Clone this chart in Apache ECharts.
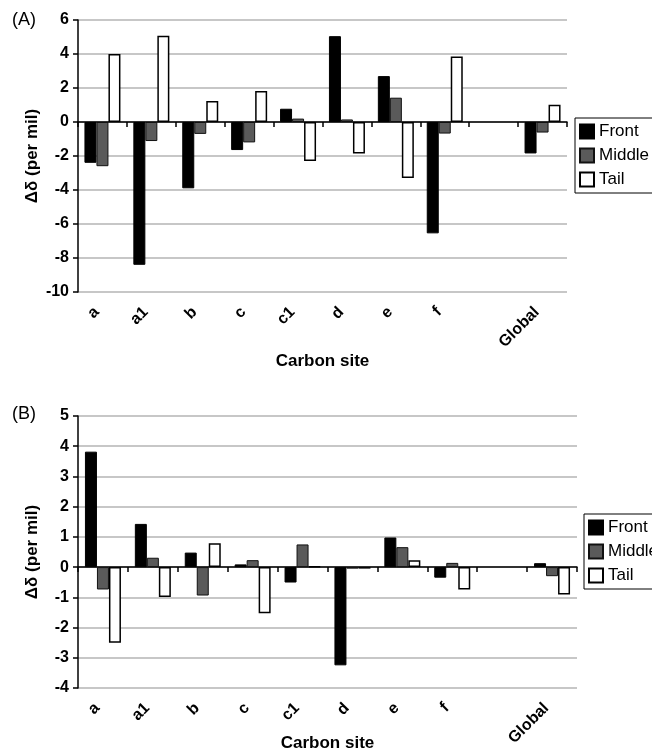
<!DOCTYPE html>
<html><head><meta charset="utf-8">
<script src="https://cdn.jsdelivr.net/npm/echarts@6/dist/echarts.min.js"></script>
<style>html,body{margin:0;padding:0;background:#fff;overflow:hidden}#c{width:652px;height:752px}</style>
</head><body><div id="c"></div>
<script>
// ---- data ----
const categories = ['a', 'a1', 'b', 'c', 'c1', 'd', 'e', 'f', '', 'Global'];
const seriesNames = ['Front', 'Middle', 'Tail'];

const frontA  = [-2.4, -8.4, -3.9, -1.65, 0.78, 5.05, 2.7, -6.55, null, -1.85];
const middleA = [-2.6, -1.12, -0.7, -1.2, 0.2, 0.15, 1.43, -0.68, null, -0.62];
const tailA   = [4.0, 5.08, 1.24, 1.82, -2.3, -1.85, -3.3, 3.86, null, 1.02];

const frontB  = [3.82, 1.43, 0.48, 0.09, -0.51, -3.25, 0.98, -0.35, null, 0.13];
const middleB = [-0.74, 0.31, -0.94, 0.23, 0.75, -0.05, 0.66, 0.14, null, -0.3];
const tailB   = [-2.5, -0.99, 0.79, -1.53, 0.02, -0.05, 0.23, -0.74, null, -0.91];

const yTicksA = [-10, -8, -6, -4, -2, 0, 2, 4, 6];
const yTicksB = [-4, -3, -2, -1, 0, 1, 2, 3, 4, 5];

const panelLabels = ['(A)', '(B)'];
const yTitle = 'Δδ (per mil)';
const xTitle = 'Carbon site';

// ---- styles ----
const FONT = '"Liberation Sans", Arial, sans-serif';
const seriesStyles = [
  { color: '#000000', borderColor: '#000', borderWidth: 1 },
  { color: '#5a5a5a', borderColor: '#111', borderWidth: 1 },
  { color: '#ffffff', borderColor: '#000', borderWidth: 1.5 }
];
const gridBoxes = [
  { left: 78, top: 20, width: 489, height: 272 },
  { left: 78, top: 416, width: 499, height: 272 }
];
const legendBoxes = [
  { left: 575, top: 118 },
  { left: 584, top: 514 }
];
const xNameGaps = [61, 47];

function yAxisFor(ticks, gi) {
  return {
    gridIndex: gi, type: 'value',
    min: ticks[0], max: ticks[ticks.length - 1], interval: ticks[1] - ticks[0],
    axisLine: { show: true, lineStyle: { color: '#000', width: 1.5 } },
    axisTick: { show: true, length: 5, lineStyle: { color: '#000', width: 1.5 } },
    axisLabel: { fontSize: 16, fontWeight: 'bold', color: '#000', fontFamily: FONT, margin: 9 },
    splitLine: { show: true, lineStyle: { color: '#b4b4b4', width: 1.5 } },
    name: yTitle, nameLocation: 'middle', nameGap: 37, nameRotate: 90, nameMoveOverlap: false,
    nameTextStyle: { fontSize: 17, fontWeight: 'bold', color: '#000', fontFamily: FONT }
  };
}
function xAxesFor(gi) {
  return [
    {
      gridIndex: gi, type: 'category', data: categories, position: 'bottom',
      axisLine: { show: false, onZero: false }, axisTick: { show: false },
      splitLine: { show: false },
      axisLabel: { interval: 0, rotate: 45, margin: 12, padding: [0, 8, 0, 0], fontSize: 16, fontWeight: 'bold', color: '#000', fontFamily: FONT },
      name: xTitle, nameLocation: 'middle', nameGap: xNameGaps[gi], nameMoveOverlap: false,
      nameTextStyle: { fontSize: 17, fontWeight: 'bold', color: '#000', fontFamily: FONT }
    },
    {
      gridIndex: gi, type: 'category', data: categories, position: 'top',
      axisLine: { show: true, onZero: true, lineStyle: { color: '#000', width: 1.5 } },
      axisTick: { show: true, inside: true, length: 5, lineStyle: { color: '#000', width: 1.5 } },
      axisLabel: { show: false }, splitLine: { show: false }
    }
  ];
}
function barSeries(name, data, gi, si) {
  return {
    name: name, type: 'bar', xAxisIndex: gi * 2, yAxisIndex: gi,
    data: data, barWidth: 12, barGap: '0%',
    itemStyle: seriesStyles[si]
  };
}
function legendFor(gi) {
  return {
    show: true, orient: 'vertical', left: legendBoxes[gi].left, top: legendBoxes[gi].top,
    data: seriesNames, selectedMode: false, icon: 'rect',
    itemWidth: 14, itemHeight: 14, itemGap: 7,
    padding: [5, 12, 5, 4],
    borderColor: '#000', borderWidth: 1, backgroundColor: '#fff',
    textStyle: { fontSize: 17, color: '#000', fontFamily: FONT, lineHeight: 17 }
  };
}

const option = {
  animation: false,
  backgroundColor: '#fff',
  textStyle: { fontFamily: FONT },
  title: [
    { text: panelLabels[0], left: 12, top: 11, padding: 0, textStyle: { fontSize: 18, fontWeight: 'normal', color: '#000', fontFamily: FONT } },
    { text: panelLabels[1], left: 12, top: 405, padding: 0, textStyle: { fontSize: 18, fontWeight: 'normal', color: '#000', fontFamily: FONT } }
  ],
  grid: gridBoxes.map(g => Object.assign({ outerBoundsMode: 'none', containLabel: false }, g)),
  xAxis: xAxesFor(0).concat(xAxesFor(1)),
  yAxis: [yAxisFor(yTicksA, 0), yAxisFor(yTicksB, 1)],
  legend: [legendFor(0), legendFor(1)],
  series: [
    barSeries(seriesNames[0], frontA, 0, 0),
    barSeries(seriesNames[1], middleA, 0, 1),
    barSeries(seriesNames[2], tailA, 0, 2),
    barSeries(seriesNames[0], frontB, 1, 0),
    barSeries(seriesNames[1], middleB, 1, 1),
    barSeries(seriesNames[2], tailB, 1, 2)
  ]
};
const chart = echarts.init(document.getElementById('c'), null, { renderer: 'canvas' });
chart.setOption(option);
</script>
</body></html>
